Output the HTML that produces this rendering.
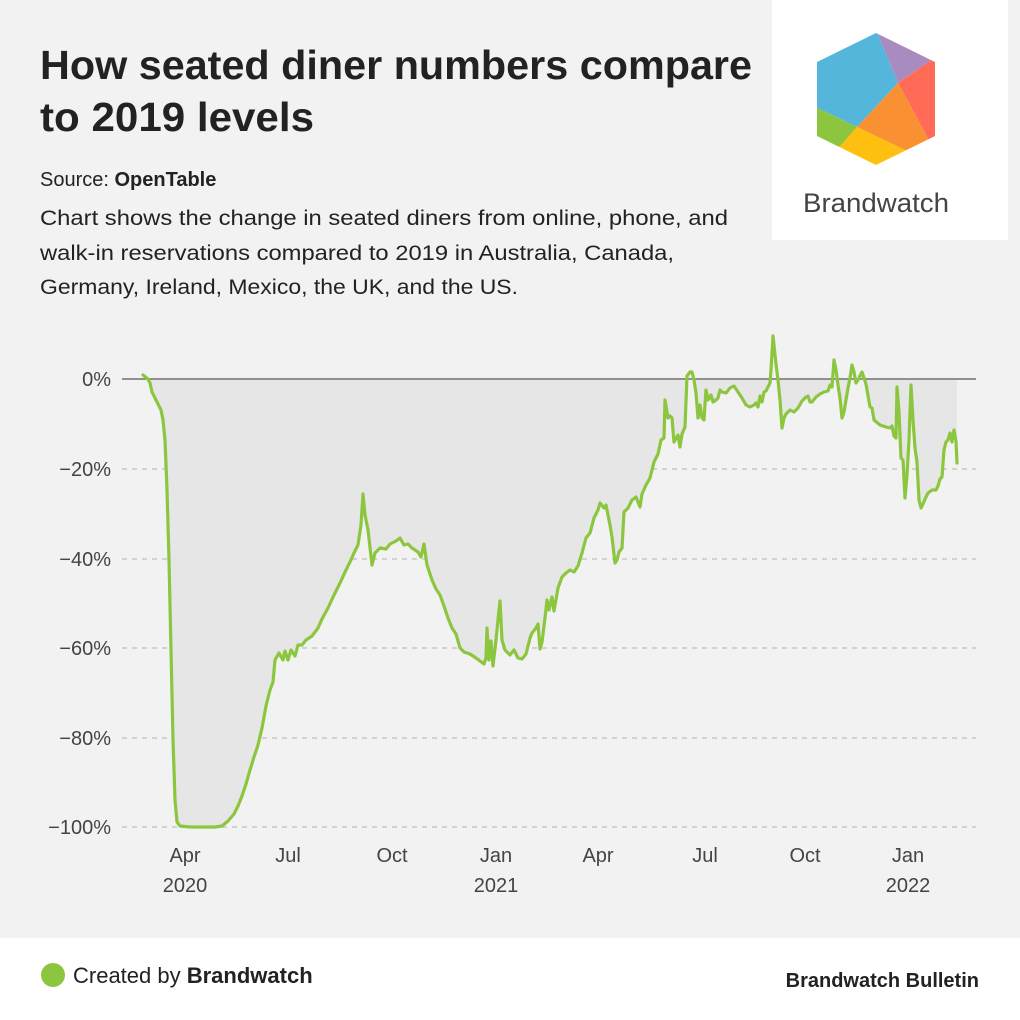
<!DOCTYPE html>
<html><head><meta charset="utf-8"><style>html,body{margin:0;padding:0;background:#f2f2f2}svg{display:block}text{font-family:"Liberation Sans",sans-serif}</style></head><body>
<svg width="1020" height="1020" viewBox="0 0 1020 1020" xmlns="http://www.w3.org/2000/svg">
<rect width="1020" height="1020" fill="#f2f2f2"/>
<rect x="772" y="0" width="236" height="240" fill="#fff"/>
<defs>
<clipPath id="hex"><polygon points="876,33 935,62 935,136 876,165 817,136 817,62"/></clipPath>
<clipPath id="below"><rect x="0" y="379" width="1020" height="500"/></clipPath>
</defs>
<g clip-path="url(#hex)">
<polygon fill="#55b6dc" points="872,20 898,83 857,127 780,90 780,20"/>
<polygon fill="#a88bbf" points="872,20 960,20 960,40 898,83"/>
<polygon fill="#ff6b57" points="898,83 960,40 960,170 945,170"/>
<polygon fill="#f99132" points="898,83 945,170 930,170 905,150 857,127"/>
<polygon fill="#ffbf10" points="857,127 905,150 930,170 910,190 801,190"/>
<polygon fill="#8cc63f" points="857,127 801,190 780,190 780,90"/>
</g>
<text x="803" y="212" font-size="27" fill="#444" textLength="146" lengthAdjust="spacingAndGlyphs">Brandwatch</text>
<text x="40" y="79" font-size="41" font-weight="bold" fill="#222" textLength="712" lengthAdjust="spacingAndGlyphs">How seated diner numbers compare</text>
<text x="40" y="131" font-size="41" font-weight="bold" fill="#222" textLength="274" lengthAdjust="spacingAndGlyphs">to 2019 levels</text>
<text x="40" y="186" font-size="20" fill="#222">Source: <tspan font-weight="bold">OpenTable</tspan></text>
<text x="40" y="225" font-size="21" fill="#222" textLength="688" lengthAdjust="spacingAndGlyphs">Chart shows the change in seated diners from online, phone, and</text>
<text x="40" y="260" font-size="21" fill="#222" textLength="634" lengthAdjust="spacingAndGlyphs">walk-in reservations compared to 2019 in Australia, Canada,</text>
<text x="40" y="294" font-size="21" fill="#222" textLength="478" lengthAdjust="spacingAndGlyphs">Germany, Ireland, Mexico, the UK, and the US.</text>
<g stroke="#c8c8c8" stroke-width="1.5" stroke-dasharray="5,5">
<line x1="122" y1="469" x2="976" y2="469"/><line x1="122" y1="559" x2="976" y2="559"/><line x1="122" y1="648" x2="976" y2="648"/><line x1="122" y1="738" x2="976" y2="738"/><line x1="122" y1="827" x2="976" y2="827"/>
</g>
<g font-size="20" fill="#444" text-anchor="end">
<text x="111" y="386">0%</text><text x="111" y="476">−20%</text><text x="111" y="566">−40%</text><text x="111" y="655">−60%</text><text x="111" y="745">−80%</text><text x="111" y="834">−100%</text>
</g>
<g font-size="20" fill="#444" text-anchor="middle">
<text x="185" y="862">Apr</text><text x="185" y="892">2020</text>
<text x="288" y="862">Jul</text><text x="392" y="862">Oct</text>
<text x="496" y="862">Jan</text><text x="496" y="892">2021</text>
<text x="598" y="862">Apr</text><text x="705" y="862">Jul</text><text x="805" y="862">Oct</text>
<text x="908" y="862">Jan</text><text x="908" y="892">2022</text>
</g>
<polygon clip-path="url(#below)" fill="#e6e6e6" points="143,379 143,375 148,379 150,383 152,392 155,398 158,404 161,410 163,420 165,440 167,490 169,560 171,650 173,740 175,800 177,822 180,826 190,827 215,827 222,826 228,821 234,814 238,806 242,796 246,784 250,770 254,757 258,745 262,728 266,706 270,690 273,682 275,660 279,653 283,660 285,651 288,660 291,650 295,656 298,645 302,645 306,640 312,636 318,628 322,619 328,608 334,595 340,583 346,570 350,562 354,553 358,545 361,525 363,494 365,515 368,530 372,565 375,553 380,548 386,549 390,544 396,541 400,538 404,545 408,544 412,548 418,552 421,557 424,544 427,565 432,580 436,589 440,595 444,606 448,618 452,628 456,634 460,648 464,652 470,654 476,658 480,661 484,664 486,658 487,628 489,660 491,641 493,666 496,640 498,620 500,601 502,640 505,650 510,655 514,650 518,658 522,659 526,654 530,638 532,633 536,628 538,624 540,649 542,642 545,618 547,600 549,610 552,597 554,611 558,588 562,577 566,573 570,570 574,572 578,566 582,553 586,538 590,533 594,518 598,510 600,503 604,508 606,505 610,525 612,537 615,563 617,560 619,552 622,548 624,512 628,508 632,500 636,497 640,507 642,494 646,485 650,478 654,462 658,454 661,440 664,438 665,400 668,418 670,416 672,418 674,442 678,435 680,447 682,434 685,427 687,376 690,372 692,372 694,380 696,393 698,418 700,405 702,418 704,420 706,390 708,400 711,395 713,402 716,400 718,398 720,390 722,392 726,393 730,388 734,386 738,392 742,398 746,405 750,407 754,405 756,403 758,407 760,396 762,402 764,392 766,391 768,387 770,383 771,370 773,336 776,364 778,380 780,400 782,428 784,418 786,414 790,410 794,412 798,408 802,401 806,397 808,396 810,402 812,402 816,397 820,394 824,392 828,391 830,385 832,387 834,360 836,370 838,385 840,398 842,418 844,412 846,400 848,388 850,378 852,365 854,372 856,383 858,380 860,376 862,372 864,378 866,384 870,407 872,408 874,420 880,425 886,427 890,428 892,426 894,436 896,438 897,387 899,412 901,458 903,460 905,498 907,475 909,440 911,385 913,420 915,448 917,462 919,500 921,508 923,504 926,497 928,493 932,490 936,490 938,486 940,479 942,477 944,450 946,442 948,440 950,433 952,442 954,430 956,441 957,463 957,379"/>
<line x1="122" y1="379" x2="976" y2="379" stroke="#707070" stroke-width="1.5"/>
<polyline fill="none" stroke="#8cc63f" stroke-width="3.2" stroke-linejoin="round" stroke-linecap="round" points="143,375 148,379 150,383 152,392 155,398 158,404 161,410 163,420 165,440 167,490 169,560 171,650 173,740 175,800 177,822 180,826 190,827 215,827 222,826 228,821 234,814 238,806 242,796 246,784 250,770 254,757 258,745 262,728 266,706 270,690 273,682 275,660 279,653 283,660 285,651 288,660 291,650 295,656 298,645 302,645 306,640 312,636 318,628 322,619 328,608 334,595 340,583 346,570 350,562 354,553 358,545 361,525 363,494 365,515 368,530 372,565 375,553 380,548 386,549 390,544 396,541 400,538 404,545 408,544 412,548 418,552 421,557 424,544 427,565 432,580 436,589 440,595 444,606 448,618 452,628 456,634 460,648 464,652 470,654 476,658 480,661 484,664 486,658 487,628 489,660 491,641 493,666 496,640 498,620 500,601 502,640 505,650 510,655 514,650 518,658 522,659 526,654 530,638 532,633 536,628 538,624 540,649 542,642 545,618 547,600 549,610 552,597 554,611 558,588 562,577 566,573 570,570 574,572 578,566 582,553 586,538 590,533 594,518 598,510 600,503 604,508 606,505 610,525 612,537 615,563 617,560 619,552 622,548 624,512 628,508 632,500 636,497 640,507 642,494 646,485 650,478 654,462 658,454 661,440 664,438 665,400 668,418 670,416 672,418 674,442 678,435 680,447 682,434 685,427 687,376 690,372 692,372 694,380 696,393 698,418 700,405 702,418 704,420 706,390 708,400 711,395 713,402 716,400 718,398 720,390 722,392 726,393 730,388 734,386 738,392 742,398 746,405 750,407 754,405 756,403 758,407 760,396 762,402 764,392 766,391 768,387 770,383 771,370 773,336 776,364 778,380 780,400 782,428 784,418 786,414 790,410 794,412 798,408 802,401 806,397 808,396 810,402 812,402 816,397 820,394 824,392 828,391 830,385 832,387 834,360 836,370 838,385 840,398 842,418 844,412 846,400 848,388 850,378 852,365 854,372 856,383 858,380 860,376 862,372 864,378 866,384 870,407 872,408 874,420 880,425 886,427 890,428 892,426 894,436 896,438 897,387 899,412 901,458 903,460 905,498 907,475 909,440 911,385 913,420 915,448 917,462 919,500 921,508 923,504 926,497 928,493 932,490 936,490 938,486 940,479 942,477 944,450 946,442 948,440 950,433 952,442 954,430 956,441 957,463"/>
<rect x="0" y="938" width="1020" height="82" fill="#fff"/>
<circle cx="53" cy="975" r="12" fill="#8cc63f"/>
<text x="73" y="983" font-size="22" fill="#222">Created by <tspan font-weight="bold">Brandwatch</tspan></text>
<text x="979" y="987" font-size="20" font-weight="bold" fill="#222" text-anchor="end">Brandwatch Bulletin</text>
</svg>
</body></html>
